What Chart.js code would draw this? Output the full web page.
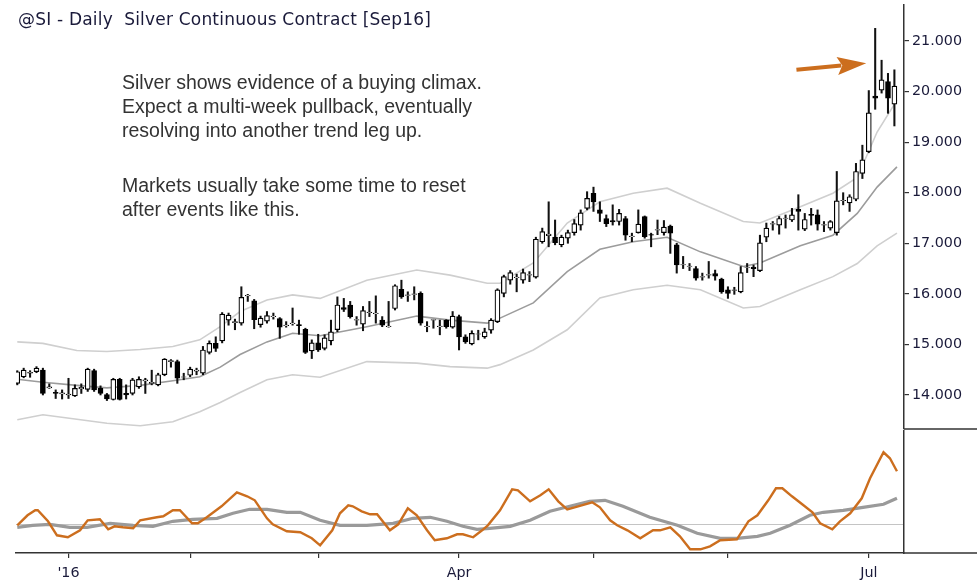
<!DOCTYPE html>
<html>
<head>
<meta charset="utf-8">
<title>Silver Continuous Contract</title>
<script src="https://cdn.jsdelivr.net/npm/chart.js@4/dist/chart.umd.min.js"></script>
<style>
  html, body { margin: 0; padding: 0; background: #fff; }
  #wrap { position: relative; width: 980px; height: 586px; overflow: hidden; }
  #priceBox { position: absolute; left: 0; top: 0; width: 980px; height: 430px; }
  #oscBox { position: absolute; left: 0; top: 430px; width: 980px; height: 156px; }
  .title {
    position: absolute; left: 18px; top: 9px; white-space: pre; letter-spacing: 0.2px;
    font: 17px/20px "DejaVu Sans", sans-serif; color: #1a1a3a;
  }
  .note {
    position: absolute; left: 122px; margin: 0;
    font: 19.5px/24px "Liberation Sans", Arial, sans-serif; color: #333;
  }
</style>
</head>
<body>
<div id="wrap">
  <div id="priceBox"><canvas id="priceChart" width="980" height="430"></canvas></div>
  <div id="oscBox"><canvas id="oscChart" width="980" height="156"></canvas></div>
  <div class="title">@SI - Daily  Silver Continuous Contract [Sep16]</div>
  <p class="note" style="top:70px">Silver shows evidence of a buying climax.<br>Expect a multi-week pullback, eventually<br>resolving into another trend leg up.</p>
  <p class="note" style="top:173px">Markets usually take some time to reset<br>after events like this.</p>
</div>
<script>
// daily bars, 21 Dec 2015 .. 8 Jul 2016 (x = bar number)
const opens = [
  14.23, 14.36, 14.43, 14.46, 14.49, 14.14, 14.05, 14.02, 14.00, 13.98,
  14.12, 14.11, 14.48, 14.13, 14.01, 13.91, 14.31, 14.03, 14.03, 14.16,
  14.28, 14.23, 14.20, 14.40, 14.66, 14.66, 14.35, 14.39, 14.47, 14.43,
  14.84, 15.02, 15.07, 15.48, 15.43, 15.42, 15.96, 15.86, 15.39, 15.46,
  15.55, 15.51, 15.37, 15.41, 15.39, 15.30, 14.87, 15.03, 14.92, 15.07,
  15.29, 15.73, 15.78, 15.48, 15.40, 15.63, 15.61, 15.48, 15.35, 15.71,
  16.09, 15.97, 15.99, 16.01, 15.35, 15.48, 15.35, 15.48, 15.34, 15.55,
  15.15, 15.01, 15.20, 15.15, 15.28, 15.45, 16.01, 16.27, 16.32, 16.27,
  16.37, 16.33, 17.03, 17.15, 17.12, 16.97, 17.10, 17.21, 17.36, 17.69,
  17.99, 17.66, 17.49, 17.45, 17.43, 17.49, 17.13, 17.21, 17.53, 17.17,
  17.26, 17.21, 17.34, 16.97, 16.57, 16.54, 16.50, 16.33, 16.37, 16.40,
  16.29, 16.08, 16.07, 16.04, 16.52, 16.53, 16.46, 17.12, 17.38, 17.36,
  17.49, 17.46, 17.67, 17.28, 17.57, 17.56, 17.36, 17.30, 17.21, 17.84,
  17.80, 17.87, 18.38, 18.81, 19.91, 20.03, 20.20, 19.75
];
const highs = [
  14.48, 14.53, 14.48, 14.56, 14.53, 14.22, 14.10, 14.10, 14.33, 14.20,
  14.22, 14.53, 14.51, 14.18, 14.03, 14.33, 14.33, 14.20, 14.33, 14.36,
  14.33, 14.49, 14.43, 14.72, 14.70, 14.69, 14.43, 14.55, 14.53, 14.96,
  15.07, 15.15, 15.63, 15.62, 15.50, 16.14, 15.99, 15.89, 15.56, 15.65,
  15.62, 15.53, 15.45, 15.72, 15.48, 15.32, 15.09, 15.20, 15.19, 15.48,
  15.94, 15.91, 15.85, 15.55, 15.75, 15.85, 15.96, 15.55, 15.85, 16.18,
  16.27, 16.04, 16.14, 16.04, 15.45, 15.49, 15.48, 15.49, 15.65, 15.58,
  15.19, 15.27, 15.28, 15.32, 15.51, 16.10, 16.37, 16.46, 16.39, 16.49,
  16.44, 17.12, 17.30, 17.82, 17.46, 17.16, 17.26, 17.47, 17.66, 18.02,
  18.11, 17.82, 17.56, 17.76, 17.67, 17.53, 17.20, 17.66, 17.54, 17.20,
  17.46, 17.45, 17.36, 17.00, 16.74, 16.60, 16.54, 16.41, 16.64, 16.47,
  16.31, 16.14, 16.13, 16.54, 16.60, 16.57, 17.16, 17.40, 17.43, 17.53,
  17.56, 17.69, 17.96, 17.59, 17.69, 17.66, 17.43, 17.45, 18.42, 18.00,
  17.96, 18.58, 18.94, 20.02, 21.25, 20.62, 20.36, 20.43
];
const lows = [
  14.20, 14.34, 14.35, 14.44, 14.00, 14.13, 13.93, 13.92, 13.93, 13.97,
  14.03, 14.07, 14.07, 14.00, 13.89, 13.90, 13.90, 13.92, 14.00, 14.13,
  14.03, 14.20, 14.18, 14.38, 14.55, 14.23, 14.30, 14.36, 14.40, 14.40,
  14.81, 14.86, 15.03, 15.38, 15.29, 15.38, 15.85, 15.31, 15.34, 15.42,
  15.50, 15.12, 15.34, 15.38, 15.20, 14.82, 14.72, 14.86, 14.89, 14.99,
  15.25, 15.65, 15.52, 15.38, 15.27, 15.55, 15.42, 15.35, 15.34, 15.68,
  15.91, 15.85, 15.88, 15.38, 15.25, 15.32, 15.19, 15.32, 15.32, 14.89,
  15.02, 14.99, 15.09, 15.12, 15.22, 15.43, 15.94, 16.19, 16.04, 16.21,
  16.24, 16.31, 17.00, 16.93, 16.97, 16.93, 17.00, 17.16, 17.26, 17.66,
  17.63, 17.43, 17.33, 17.36, 17.36, 17.06, 17.03, 17.20, 17.10, 16.93,
  17.17, 17.16, 16.80, 16.41, 16.50, 16.46, 16.27, 16.27, 16.31, 16.27,
  16.01, 15.91, 15.99, 16.02, 16.42, 16.34, 16.44, 17.03, 17.26, 17.18,
  17.30, 17.43, 17.26, 17.25, 17.36, 17.26, 17.23, 17.26, 17.16, 17.76,
  17.63, 17.84, 18.28, 18.79, 19.65, 19.97, 19.57, 19.32
];
const closes = [
  14.46, 14.49, 14.45, 14.53, 14.03, 14.16, 14.03, 14.04, 14.02, 14.13,
  14.15, 14.51, 14.10, 14.03, 13.92, 14.31, 13.91, 14.00, 14.30, 14.31,
  14.30, 14.25, 14.40, 14.71, 14.68, 14.33, 14.36, 14.51, 14.49, 14.89,
  15.02, 14.92, 15.60, 15.58, 15.45, 15.93, 15.97, 15.49, 15.52, 15.57,
  15.56, 15.34, 15.38, 15.42, 15.37, 14.84, 15.03, 14.89, 15.13, 15.25,
  15.78, 15.69, 15.55, 15.49, 15.67, 15.64, 15.62, 15.38, 15.36, 16.16,
  15.94, 15.98, 16.00, 15.42, 15.36, 15.49, 15.36, 15.35, 15.56, 15.15,
  15.05, 15.22, 15.21, 15.25, 15.48, 16.08, 16.34, 16.42, 16.33, 16.42,
  16.38, 17.08, 17.23, 17.18, 17.01, 17.12, 17.21, 17.39, 17.60, 17.89,
  17.82, 17.59, 17.39, 17.42, 17.59, 17.16, 17.14, 17.38, 17.13, 17.16,
  17.27, 17.32, 17.20, 16.57, 16.58, 16.55, 16.31, 16.34, 16.38, 16.35,
  16.04, 16.01, 16.08, 16.42, 16.53, 16.50, 17.01, 17.30, 17.39, 17.49,
  17.50, 17.56, 17.63, 17.47, 17.55, 17.38, 17.37, 17.43, 17.84, 17.85,
  17.92, 18.42, 18.65, 19.58, 19.87, 20.23, 19.87, 20.11
];

// channel lines, read at these bar numbers
const bandIdx = [0, 4, 9.3, 14, 19.2, 24.3, 28.5, 31.7, 34.8, 39, 43, 47.3, 54.6, 62.4, 67.6, 73.4, 75.4,
  80.6, 85.9, 91, 96.2, 101.5, 106.7, 113.4, 116, 122.3, 127.4, 131.2, 134.3, 137.4];
const upperBand = [15.05, 15.02, 14.88, 14.86, 14.90, 14.96, 15.09, 15.35, 15.65, 15.88, 15.98, 15.91, 16.27, 16.47, 16.37, 16.21, 16.21,
  16.61, 17.40, 17.82, 17.99, 18.09, 17.79, 17.43, 17.40, 17.72, 17.99, 18.30, 19.20, 19.83];
const midBand = [14.31, 14.25, 14.19, 14.14, 14.19, 14.28, 14.36, 14.55, 14.80, 15.05, 15.22, 15.17, 15.35, 15.56, 15.48, 15.42, 15.52,
  15.82, 16.44, 16.88, 17.03, 17.12, 16.83, 16.54, 16.61, 16.95, 17.16, 17.59, 18.11, 18.51];
const lowerBand = [13.51, 13.61, 13.52, 13.44, 13.39, 13.47, 13.67, 13.85, 14.05, 14.30, 14.40, 14.35, 14.66, 14.63, 14.56, 14.53, 14.60,
  14.89, 15.29, 15.92, 16.08, 16.17, 16.08, 15.72, 15.75, 16.08, 16.34, 16.60, 16.95, 17.20];

// oscillator panel (zero = the thin grey line)
const oscIdx = [0, 1.6, 2.8, 3.2, 4.8, 6.2, 7.9, 9.8, 11, 12.9, 14.2, 15.2, 16.5, 18.1, 19.2, 21.8, 22.8, 24.3, 25.4, 27.3,
  28.2, 29.6, 31.9, 34.3, 35.9, 37.1, 39, 39.9, 42.1, 44.2, 46, 47.3, 49.2, 50.4, 51.7, 52.4, 53.8, 55.1, 56.2, 58.2,
  59.5, 61, 62.4, 64, 65.2, 67.1, 68.7, 69.6, 71.2, 72.6, 73.5, 75.4, 77.3, 78.2, 80.1, 81.7, 83, 84.5, 85.9, 87.6,
  89.8, 91, 92.6, 93.7, 95.3, 97.3, 99.3, 100.4, 102, 103.5, 105.1, 106.7, 108.2, 109.8, 112.4, 114.2, 115.6, 117.3, 118.5, 119.5,
  121, 122.6, 124.2, 125.4, 127.3, 128.5, 130.1, 131.9, 133.2, 135.3, 136.3, 137.4];
const oscValues = [-0.1, 0.9, 1.4, 1.4, 0.3, -1.1, -1.3, -0.6, 0.4, 0.5, -0.5, -0.2, -0.3, -0.4, 0.4, 0.7, 0.8, 1.4, 1.4, 0.1,
  0.1, 0.7, 1.8, 3.2, 2.8, 2.4, 0.6, 0.0, -0.7, -0.8, -1.4, -2.1, -0.6, 1.1, 1.9, 1.8, 1.3, 1.0, 1.0, -0.6,
  0.0, 1.6, 0.9, -0.6, -1.6, -1.4, -1.0, -1.0, -1.3, -0.6, -0.1, 1.4, 3.5, 3.4, 2.3, 2.9, 3.5, 2.3, 1.5, 1.8,
  2.2, 1.7, 0.4, -0.1, -0.6, -1.4, -0.6, -0.6, -0.3, -1.2, -2.5, -2.5, -2.2, -1.6, -1.5, 0.3, 0.9, 2.4, 3.6, 3.6,
  2.8, 2.0, 1.2, 0.1, -0.5, 0.3, 1.1, 2.6, 4.6, 7.2, 6.6, 5.3];
const sigIdx = [0, 2.4, 5.1, 8.2, 10.9, 14.5, 18.1, 21.2, 24.3, 27.4, 31.2, 33.7, 36.3, 39, 42.1, 44.2, 47.3, 50.4, 54.6, 58.7,
  61.8, 64.5, 67.1, 69.6, 71.8, 73.8, 77, 80.1, 83.2, 86.3, 89.4, 91.8, 94.6, 98.8, 103.1, 106.2, 109.8, 112.4, 115.6, 117.6,
  120.7, 123.8, 125.9, 129, 132.1, 135.3, 137.4];
const sigValues = [-0.3, -0.1, 0.0, -0.3, -0.3, 0.1, -0.1, -0.2, 0.3, 0.5, 0.6, 1.1, 1.5, 1.5, 1.2, 1.2, 0.4, -0.1, -0.1, 0.1,
  0.6, 0.7, 0.3, -0.2, -0.5, -0.4, -0.2, 0.4, 1.3, 1.8, 2.3, 2.4, 1.8, 0.7, -0.1, -0.9, -1.4, -1.4, -1.2, -0.9,
  -0.1, 0.9, 1.2, 1.4, 1.7, 2.0, 2.6];

const priceTicks = [14, 15, 16, 17, 18, 19, 20, 21];
const monthTicks = [8, 27, 47, 69, 90, 111, 133];
const monthLabels = ["'16", '', '', 'Apr', '', '', 'Jul'];

const axisFont = { family: '"DejaVu Sans", sans-serif', size: 14.3 };
const axisText = '#1a1a3a';
const axisLine = '#333';
const orange = '#cc6e1e';
const xMin = -0.2, xMax = 138.5;

const toPoints = (xs, ys) => xs.map((x, i) => ({ x: x, y: ys[i] }));

// keep the right axis block a fixed width and stop label padding from shrinking the plot
function fixRightAxis(s) {
    s.width = 76;
    s.paddingTop = 0;
    s.paddingBottom = 0;
}

// short piece of axis line out to the right edge
const rightLedge = {
    id: 'rightLedge',
    afterDraw(chart) {
        const { ctx, chartArea } = chart;
        ctx.save();
        ctx.strokeStyle = axisLine;
        ctx.lineWidth = 1.5;
        ctx.beginPath();
        ctx.moveTo(chartArea.right, chartArea.bottom);
        ctx.lineTo(chart.width - 3, chartArea.bottom);
        ctx.stroke();
        ctx.restore();
    }
};

// orange arrow pointing at the climax bar
const climaxArrow = {
    id: 'climaxArrow',
    afterDatasetsDraw(chart) {
        const xs = chart.scales.x, ys = chart.scales.y;
        const x0 = xs.getPixelForValue(121.7), y0 = ys.getPixelForValue(20.43);
        const x1 = xs.getPixelForValue(132.6), y1 = ys.getPixelForValue(20.56);
        const ang = Math.atan2(y1 - y0, x1 - x0);
        const headLen = 29, headHalf = 9;
        const ctx = chart.ctx;
        ctx.save();
        ctx.translate(x1, y1);
        ctx.rotate(ang);
        const len = Math.hypot(x1 - x0, y1 - y0);
        ctx.strokeStyle = orange;
        ctx.lineWidth = 4;
        ctx.beginPath();
        ctx.moveTo(-len, 0);
        ctx.lineTo(-headLen + 4, 0);
        ctx.stroke();
        ctx.fillStyle = orange;
        ctx.beginPath();
        ctx.moveTo(0, 0);
        ctx.lineTo(-headLen, -headHalf);
        ctx.lineTo(-headLen + 5, 0);
        ctx.lineTo(-headLen, headHalf);
        ctx.closePath();
        ctx.fill();
        ctx.restore();
    }
};

const bars = opens.map((o, i) => i);
const bodyData = bars.map(i => ({ x: i, y: [opens[i], closes[i]] }));
const wickData = bars.map(i => ({ x: i, y: [lows[i], highs[i]] }));
const bodyColors = bars.map(i => closes[i] >= opens[i] ? '#ffffff' : '#000000');

new Chart(document.getElementById('priceChart'), {
    type: 'bar',
    data: {
        datasets: [
            { type: 'line', label: 'Upper', data: toPoints(bandIdx, upperBand), borderColor: '#cfcfcf', borderWidth: 1.6, pointRadius: 0, tension: 0, order: 6 },
            { type: 'line', label: 'Lower', data: toPoints(bandIdx, lowerBand), borderColor: '#cfcfcf', borderWidth: 1.6, pointRadius: 0, tension: 0, order: 5 },
            { type: 'line', label: 'Average', data: toPoints(bandIdx, midBand), borderColor: '#9c9c9c', borderWidth: 1.6, pointRadius: 0, tension: 0, order: 4 },
            { label: 'Range', data: wickData, backgroundColor: '#111', borderWidth: 0, barThickness: 1.4, grouped: false, order: 2 },
            { label: 'Body', data: bodyData, backgroundColor: bodyColors, borderColor: '#000', borderWidth: 1.2, borderSkipped: false, barThickness: 5, grouped: false, order: 1 }
        ]
    },
    options: {
        responsive: false,
        animation: false,
        events: [],
        layout: { padding: { left: 16, top: 5, right: 0, bottom: 1 } },
        plugins: { legend: { display: false }, tooltip: { enabled: false } },
        scales: {
            x: { type: 'linear', min: xMin, max: xMax, offset: false, display: false },
            y: {
                position: 'right',
                min: 13.327,
                max: 21.712,
                afterBuildTicks: s => { s.ticks = priceTicks.map(v => ({ value: v })); },
                afterFit: fixRightAxis,
                grid: { drawOnChartArea: false, tickLength: 5, color: axisLine, lineWidth: 1.2 },
                border: { color: axisLine, width: 1.5 },
                ticks: { padding: 3, color: axisText, font: axisFont, callback: v => v.toFixed(3) }
            }
        }
    },
    plugins: [rightLedge, climaxArrow]
});

new Chart(document.getElementById('oscChart'), {
    type: 'line',
    data: {
        datasets: [
            { label: 'Signal', data: toPoints(sigIdx, sigValues), borderColor: '#9a9a9a', borderWidth: 3.2, pointRadius: 0, tension: 0, order: 2 },
            { label: 'Oscillator', data: toPoints(oscIdx, oscValues), borderColor: orange, borderWidth: 2.4, pointRadius: 0, tension: 0, order: 1 }
        ]
    },
    options: {
        responsive: false,
        animation: false,
        events: [],
        layout: { padding: { left: 16, top: 0, right: 0, bottom: 0 } },
        plugins: { legend: { display: false }, tooltip: { enabled: false } },
        scales: {
            x: {
                type: 'linear', min: xMin, max: xMax, offset: false,
                afterBuildTicks: s => { s.ticks = monthTicks.map(v => ({ value: v })); },
                afterFit: s => { s.height = 33; s.paddingLeft = 0; s.paddingRight = 0; },
                grid: { drawOnChartArea: false, tickLength: 5, color: axisLine, lineWidth: 1.2 },
                border: { color: axisLine, width: 1.5 },
                ticks: { autoSkip: false, maxRotation: 0, padding: 7, color: axisText, font: axisFont, callback: (v, i) => monthLabels[i] }
            },
            y: {
                position: 'right',
                min: -2.87,
                max: 9.43,
                afterBuildTicks: s => { s.ticks = [{ value: 0 }]; },
                afterFit: fixRightAxis,
                grid: { color: '#c4c4c4', lineWidth: 1, drawTicks: false },
                border: { color: axisLine, width: 1.5 },
                ticks: { display: false }
            }
        }
    },
    plugins: [rightLedge]
});
</script>
</body>
</html>
